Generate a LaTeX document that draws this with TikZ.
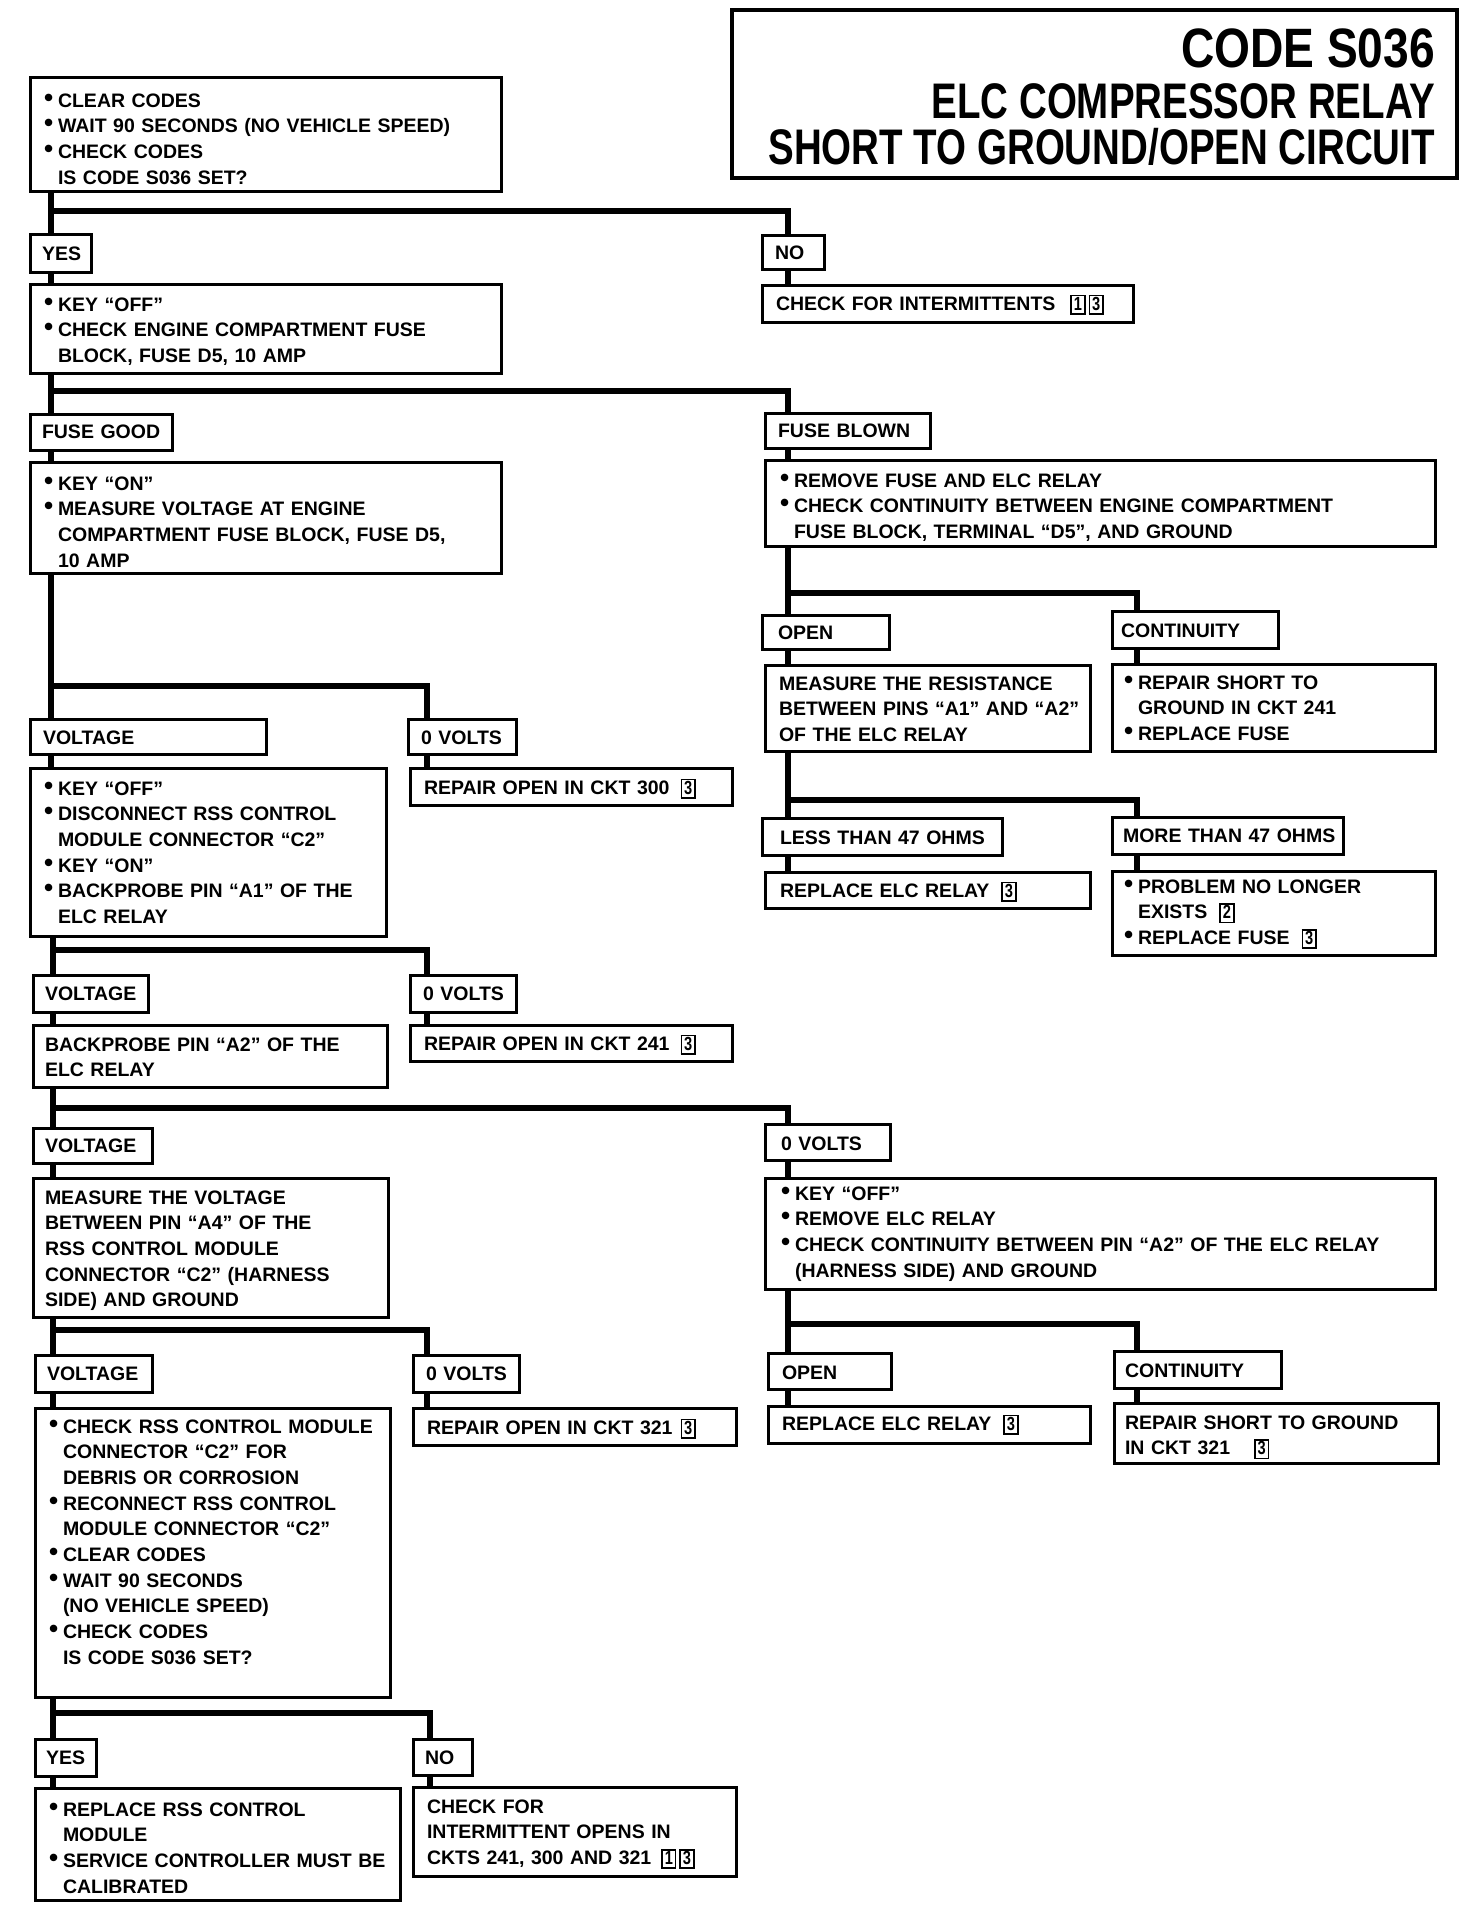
\documentclass[tikz,border=0pt]{standalone}
\usepackage{fontspec}
\setmainfont{Liberation Sans}
\newfontfamily\condfont{Liberation Sans}[FakeStretch=0.77]
\usepackage{graphicx}
\usetikzlibrary{calc}
\newcommand\itm[1]{\hangindent=14pt\hangafter=1\relax\makebox[14pt][l]{\raisebox{1pt}{\fontsize{26}{26}\selectfont •}}#1\par}
\newcommand\dg[1]{{\setlength\fboxsep{0.5pt}\setlength\fboxrule{1.5pt}\fbox{\hspace{1.5pt}\rule[-2.5pt]{0pt}{15.5pt}{\condfont\bfseries\fontsize{19}{19}\selectfont #1}\hspace{1.5pt}}}}
\tikzset{
  bx/.style={draw, rectangle, line width=3pt, inner sep=0pt, outer sep=0pt, fill=white},
  tx/.style={anchor=base west, inner sep=0pt, outer sep=0pt, align=left, font={\fontsize{19.5}{25.7}\selectfont\bfseries}},
  ttl/.style={anchor=base east, inner sep=0pt, outer sep=0pt},
  conn/.style={line width=6pt, line cap=butt, line join=miter}
}
\newcommand\Bx[8]{%
  \node[bx, minimum width={#4-#2}, minimum height={#5-#3}] (#1) at ({(#2+#4)/2},{(#3+#5)/2}) {};
  \node[tx, text width={#4-#6-4}] (#1t) at (#6,#7) {#8};
}
\begin{document}
\begin{tikzpicture}[x=1pt,y=-1pt]
\useasboundingbox (0,0) rectangle (1472,1920);
\fill[white] (0,0) rectangle (1472,1920);

% title
\node[bx, line width=3.5pt, minimum width=725, minimum height=168] (title) at (1094.5,94) {};
\node[ttl, font={\condfont\bfseries\fontsize{55.5}{55}\selectfont}] (t1) at (1435,67) {\scalebox{1.08}[1]{CODE S036}};
\node[ttl, font={\condfont\bfseries\fontsize{50}{50}\selectfont}] (t2) at (1435,118) {ELC COMPRESSOR RELAY};
\node[ttl, font={\condfont\bfseries\fontsize{50}{50}\selectfont}] (t3) at (1435,164) {SHORT TO GROUND/OPEN CIRCUIT};

% left column
\Bx{b1}{30}{77}{501}{191}{44}{107}{\itm{CLEAR CODES}\itm{WAIT 90 SECONDS (NO VEHICLE SPEED)}\itm{CHECK CODES\newline IS CODE S036 SET?}}
\Bx{yes1}{30}{234}{91}{272}{42}{260}{YES}
\Bx{b2}{30}{284}{501}{373}{44}{311}{\itm{KEY “OFF”}\itm{CHECK ENGINE COMPARTMENT FUSE\newline BLOCK, FUSE D5, 10 AMP}}
\Bx{fgood}{30}{414}{172}{450}{42}{438}{FUSE GOOD}
\Bx{b3}{30}{462}{501}{573}{44}{490}{\itm{KEY “ON”}\itm{MEASURE VOLTAGE AT ENGINE\newline COMPARTMENT FUSE BLOCK, FUSE D5,\newline 10 AMP}}
\Bx{volt1}{30}{719}{266}{754}{43}{744}{VOLTAGE}
\Bx{zv1}{408}{719}{516}{754}{421}{744}{0 VOLTS}
\Bx{b4}{30}{768}{386}{936}{44}{795}{\itm{KEY “OFF”}\itm{DISCONNECT RSS CONTROL\newline MODULE CONNECTOR “C2”}\itm{KEY “ON”}\itm{BACKPROBE PIN “A1” OF THE\newline ELC RELAY}}
\Bx{ro300}{410}{768}{732}{805}{424}{794}{REPAIR OPEN IN CKT 300\hspace{11pt}\dg{3}}
\Bx{volt2}{33}{975}{148}{1012}{45}{1000}{VOLTAGE}
\Bx{zv2}{410}{975}{516}{1012}{423}{1000}{0 VOLTS}
\Bx{bp2}{33}{1025}{387}{1087}{45}{1051}{BACKPROBE PIN “A2” OF THE\\ELC RELAY}
\Bx{ro241}{410}{1025}{732}{1061}{424}{1050}{REPAIR OPEN IN CKT 241\hspace{11pt}\dg{3}}
\Bx{volt3}{33}{1128}{152}{1163}{45}{1152}{VOLTAGE}
\Bx{ma4}{33}{1178}{388}{1317}{45}{1204}{MEASURE THE VOLTAGE\\BETWEEN PIN “A4” OF THE\\RSS CONTROL MODULE\\CONNECTOR “C2” (HARNESS\\SIDE) AND GROUND}
\Bx{volt4}{35}{1355}{152}{1392}{47}{1380}{VOLTAGE}
\Bx{zv4}{413}{1355}{519}{1392}{426}{1380}{0 VOLTS}
\Bx{crss}{35}{1408}{390}{1697}{49}{1433}{\itm{CHECK RSS CONTROL MODULE\newline CONNECTOR “C2” FOR\newline DEBRIS OR CORROSION}\itm{RECONNECT RSS CONTROL\newline MODULE CONNECTOR “C2”}\itm{CLEAR CODES}\itm{WAIT 90 SECONDS\newline (NO VEHICLE SPEED)}\itm{CHECK CODES\newline IS CODE S036 SET?}}
\Bx{ro321}{413}{1408}{736}{1445}{427}{1434}{REPAIR OPEN IN CKT 321\hspace{8pt}\dg{3}}
\Bx{yes2}{35}{1739}{96}{1776}{46}{1764}{YES}
\Bx{no2}{413}{1739}{472}{1775}{425}{1764}{NO}
\Bx{rrss}{35}{1788}{400}{1900}{49}{1816}{\itm{REPLACE RSS CONTROL\newline MODULE}\itm{SERVICE CONTROLLER MUST BE\newline CALIBRATED}}
\Bx{cfio}{413}{1787}{736}{1876}{427}{1813}{CHECK FOR\\INTERMITTENT OPENS IN\\CKTS 241, 300 AND 321\hspace{10pt}\dg{1}\hspace{3pt}\dg{3}}

% right column
\Bx{no1}{762}{235}{824}{269}{775}{259}{NO}
\Bx{cfi}{762}{285}{1133}{322}{776}{310}{CHECK FOR INTERMITTENTS\hspace{15pt}\dg{1}\hspace{3pt}\dg{3}}
\Bx{fblown}{765}{413}{930}{448}{778}{437}{FUSE BLOWN}
\Bx{fb}{765}{460}{1435}{546}{780}{487}{\itm{REMOVE FUSE AND ELC RELAY}\itm{CHECK CONTINUITY BETWEEN ENGINE COMPARTMENT\newline FUSE BLOCK, TERMINAL “D5”, AND GROUND}}
\Bx{open1}{762}{615}{889}{649}{778}{639}{OPEN}
\Bx{cont1}{1112}{611}{1278}{648}{1121}{637}{CONTINUITY}
\Bx{mres}{765}{665}{1090}{751}{779}{690}{MEASURE THE RESISTANCE\\BETWEEN PINS “A1” AND “A2”\\OF THE ELC RELAY}
\Bx{rs241}{1112}{664}{1435}{751}{1124}{689}{\itm{REPAIR SHORT TO\newline GROUND IN CKT 241}\itm{REPLACE FUSE}}
\Bx{less}{762}{818}{1002}{855}{780}{844}{LESS THAN 47 OHMS}
\Bx{more}{1112}{817}{1343}{854}{1123}{842}{MORE THAN 47 OHMS}
\Bx{rer1}{765}{872}{1090}{908}{780}{897}{REPLACE ELC RELAY\hspace{12pt}\dg{3}}
\Bx{pnl}{1112}{871}{1435}{955}{1124}{893}{\itm{PROBLEM NO LONGER\newline EXISTS\hspace{12pt}\dg{2}}\itm{REPLACE FUSE\hspace{12pt}\dg{3}}}
\Bx{zv3}{765}{1124}{890}{1160}{781}{1150}{0 VOLTS}
\Bx{ko}{765}{1178}{1435}{1289}{781}{1200}{\itm{KEY “OFF”}\itm{REMOVE ELC RELAY}\itm{CHECK CONTINUITY BETWEEN PIN “A2” OF THE ELC RELAY\newline (HARNESS SIDE) AND GROUND}}
\Bx{open2}{768}{1353}{891}{1389}{782}{1379}{OPEN}
\Bx{cont2}{1114}{1351}{1281}{1388}{1125}{1377}{CONTINUITY}
\Bx{rer2}{768}{1406}{1090}{1443}{782}{1430}{REPLACE ELC RELAY\hspace{12pt}\dg{3}}
\Bx{rs321}{1114}{1403}{1438}{1463}{1125}{1429}{REPAIR SHORT TO GROUND\\IN CKT 321\hspace{24pt}\dg{3}}

% trunk x positions
\coordinate (xL) at (51,0);
\coordinate (xL2) at (53,0);
\coordinate (xR) at (788,0);
\coordinate (xM) at (427,0);
\coordinate (xM2) at (430,0);
\coordinate (xF) at (1137,0);

% connectors, left
\draw[conn] (b1.south -| xL) -- (yes1.north -| xL);
\coordinate (h1) at (51,211); \draw[conn] (h1) -| (no1.north -| xR);
\draw[conn] (yes1.south -| xL) -- (b2.north -| xL);
\draw[conn] (no1.south -| xR) -- (cfi.north -| xR);
\draw[conn] (b2.south -| xL) -- (fgood.north -| xL);
\coordinate (h2) at (51,391); \draw[conn] (h2) -| (fblown.north -| xR);
\draw[conn] (fgood.south -| xL) -- (b3.north -| xL);
\draw[conn] (fblown.south -| xR) -- (fb.north -| xR);
\draw[conn] (b3.south -| xL) -- (volt1.north -| xL);
\coordinate (h3) at (51,686); \draw[conn] (h3) -| (zv1.north -| xM);
\draw[conn] (volt1.south -| xL) -- (b4.north -| xL);
\draw[conn] (zv1.south -| xM) -- (ro300.north -| xM);
\draw[conn] (b4.south -| xL2) -- (volt2.north -| xL2);
\coordinate (h4) at (53,950); \draw[conn] (h4) -| (zv2.north -| xM);
\draw[conn] (volt2.south -| xL2) -- (bp2.north -| xL2);
\draw[conn] (zv2.south -| xM) -- (ro241.north -| xM);
\draw[conn] (bp2.south -| xL2) -- (volt3.north -| xL2);
\coordinate (h5) at (53,1108); \draw[conn] (h5) -| (zv3.north -| xR);
\draw[conn] (volt3.south -| xL2) -- (ma4.north -| xL2);
\draw[conn] (zv3.south -| xR) -- (ko.north -| xR);
\draw[conn] (ma4.south -| xL2) -- (volt4.north -| xL2);
\coordinate (h6) at (53,1330); \draw[conn] (h6) -| (zv4.north -| xM);
\draw[conn] (volt4.south -| xL2) -- (crss.north -| xL2);
\draw[conn] (zv4.south -| xM) -- (ro321.north -| xM);
\draw[conn] (crss.south -| xL2) -- (yes2.north -| xL2);
\coordinate (h7) at (53,1713); \draw[conn] (h7) -| (no2.north -| xM2);
\draw[conn] (yes2.south -| xL2) -- (rrss.north -| xL2);
\draw[conn] (no2.south -| xM2) -- (cfio.north -| xM2);

% connectors, right
\draw[conn] (fb.south -| xR) -- (open1.north -| xR);
\coordinate (h8) at (788,593); \draw[conn] (h8) -| (cont1.north -| xF);
\draw[conn] (open1.south -| xR) -- (mres.north -| xR);
\draw[conn] (cont1.south -| xF) -- (rs241.north -| xF);
\draw[conn] (mres.south -| xR) -- (less.north -| xR);
\coordinate (h9) at (788,800); \draw[conn] (h9) -| (more.north -| xF);
\draw[conn] (less.south -| xR) -- (rer1.north -| xR);
\draw[conn] (more.south -| xF) -- (pnl.north -| xF);
\draw[conn] (ko.south -| xR) -- (open2.north -| xR);
\coordinate (h10) at (788,1324); \draw[conn] (h10) -| (cont2.north -| xF);
\draw[conn] (open2.south -| xR) -- (rer2.north -| xR);
\draw[conn] (cont2.south -| xF) -- (rs321.north -| xF);
\end{tikzpicture}
\end{document}
